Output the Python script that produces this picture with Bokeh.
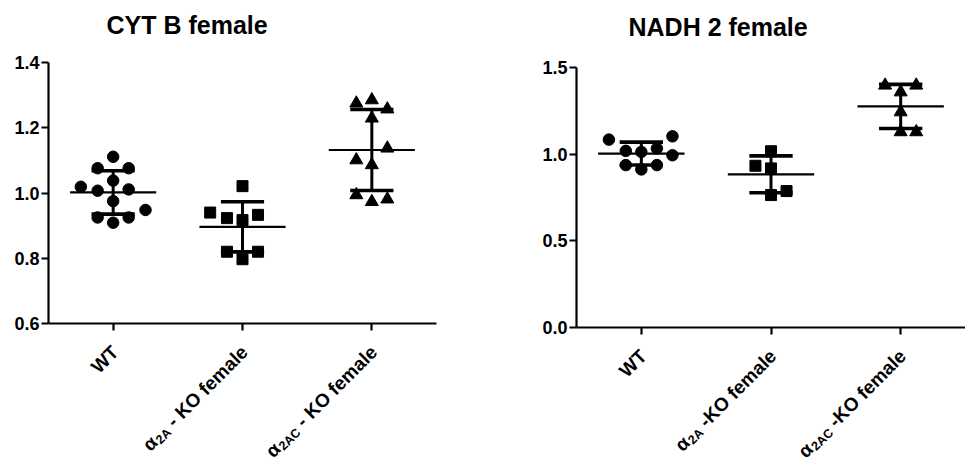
import math
import numpy as np
from bokeh.plotting import figure
from bokeh.models import FixedTicker, PrintfTickFormatter, Label
from bokeh.layouts import row
from bokeh.embed import file_html
from bokeh.resources import INLINE

# ---------------- data ----------------
positions = [1, 2, 3]
markers = ["circle", "square", "triangle"]

cytb_title = "CYT B female"
cytb_main = ["WT", "- KO female", "- KO female"]
cytb_sub = ["", "2A", "2AC"]
cytb_ticks = [0.6, 0.8, 1.0, 1.2, 1.4]

cytb_wt = [1.111, 1.076, 1.076, 1.038, 1.019, 1.007, 1.011, 0.975, 0.948, 0.925, 0.909, 0.925]
cytb_wt_jit = [0, -0.12, 0.12, 0, -0.25, -0.12, 0.12, 0, 0.25, -0.12, 0, 0.12]
cytb_a2a = [1.021, 0.940, 0.923, 0.917, 0.933, 0.820, 0.797, 0.820]
cytb_a2a_jit = [0, -0.25, -0.12, 0, 0.12, -0.12, 0, 0.12]
cytb_a2ac = [1.275, 1.285, 1.257, 1.229, 1.137, 1.101, 1.086, 0.994, 0.973, 0.981]
cytb_a2ac_jit = [-0.12, 0, 0.12, 0, 0.12, -0.12, 0, -0.12, 0, 0.12]

nadh_title = "NADH 2 female"
nadh_main = ["WT", "-KO female", "-KO female"]
nadh_sub = ["", "2A", "2AC"]
nadh_ticks = [0.0, 0.5, 1.0, 1.5]

nadh_wt = [1.084, 1.103, 1.019, 1.013, 1.033, 0.994, 0.937, 0.912, 0.937]
nadh_wt_jit = [-0.25, 0.24, -0.12, 0, 0.12, 0.24, -0.12, 0, 0.12]
nadh_a2a = [1.017, 0.933, 0.918, 0.764, 0.787]
nadh_a2a_jit = [0, -0.12, 0, 0, 0.12]
nadh_a2ac = [1.397, 1.397, 1.358, 1.243, 1.128, 1.128]
nadh_a2ac_jit = [-0.12, 0.12, 0, 0, 0, 0.12]

# ---------------- styling helpers ----------------
FONT = "Liberation Sans"
TICK_PX = 18
XLAB_PX = 19
SUB_PX = 12.5
TITLE_PX = 25
X0, X1 = 0.5, 3.5
# Arial/Liberation Sans Bold advance widths (per 1000 em)
W = {" ": 278, "-": 333, "K": 722, "O": 778, "f": 333, "e": 556, "m": 889,
     "a": 556, "l": 278, "2": 556, "A": 722, "C": 722, "W": 944, "T": 611}


def text_w(s, px):
    return sum(W.get(ch, 600) for ch in s) / 1000.0 * px


def lab(p, x, y, text, size, xo, yo, angle=0.0, align="right", baseline="middle"):
    p.add_layout(Label(x=x, y=y, text=text, x_offset=xo, y_offset=yo,
                       angle=angle, text_align=align, text_baseline=baseline,
                       text_font=FONT, text_font_style="bold",
                       text_font_size=f"{size}px", text_color="black"))


def make_plot(title, groups, jits, main, sub, ticks, y0, y1, width, height,
              ax_left, ax_right, ax_top, ax_bottom, title_dx, title_dy):
    # pixel box of the axes inside the canvas -> data ranges covering the canvas
    kx = (ax_right - ax_left) / (X1 - X0)
    ky = (ax_bottom - ax_top) / (y1 - y0)
    xr = (X0 - ax_left / kx, X0 + (width - ax_left) / kx)
    yr = (y0 - (height - ax_bottom) / ky, y1 + ax_top / ky)
    p = figure(width=width, height=height, x_range=xr, y_range=yr,
               output_backend="svg", toolbar_location=None,
               min_border_left=0, min_border_right=0,
               min_border_top=0, min_border_bottom=0)
    p.outline_line_color = None
    p.background_fill_color = "white"
    p.border_fill_color = "white"
    p.xgrid.visible = False
    p.ygrid.visible = False

    for ax in (p.xaxis[0], p.yaxis[0]):
        ax.axis_line_width = 2.2
        ax.axis_line_color = "black"
        ax.major_tick_line_width = 2.2
        ax.major_tick_line_color = "black"
        ax.major_tick_in = 0
        ax.major_tick_out = 7
        ax.minor_tick_line_color = None
        ax.major_label_text_font = FONT
        ax.major_label_text_font_size = f"{TICK_PX}px"
        ax.major_label_text_font_style = "bold"
        ax.major_label_text_color = "black"
        ax.major_label_standoff = 2

    p.yaxis.fixed_location = X0
    p.yaxis.bounds = (y0, y1)
    p.xaxis.fixed_location = y0
    p.xaxis.bounds = (X0, X1)
    p.yaxis.ticker = FixedTicker(ticks=ticks)
    p.yaxis.formatter = PrintfTickFormatter(format="%.1f")
    p.xaxis.ticker = FixedTicker(ticks=positions)
    p.xaxis.major_label_overrides = {pos: "" for pos in positions}

    # title
    lab(p, X0, y1, title, TITLE_PX, title_dx, title_dy, align="left", baseline="alphabetic")

    # points and mean +/- SD
    for pos, vals, jit, mk in zip(positions, groups, jits, markers):
        vals = np.asarray(vals, dtype=float)
        xs = pos + np.asarray(jit, dtype=float)
        size = {"circle": 11.5, "square": 11, "triangle": 13}[mk]
        p.scatter(xs, vals, marker=mk, size=size, fill_color="black", line_color="black")
        m = vals.mean()
        sd = vals.std(ddof=1)
        p.segment(x0=[pos - 0.333], y0=[m], x1=[pos + 0.333], y1=[m],
                  line_color="black", line_width=2.2)
        p.segment(x0=[pos - 0.167, pos - 0.167], y0=[m + sd, m - sd],
                  x1=[pos + 0.167, pos + 0.167], y1=[m + sd, m - sd],
                  line_color="black", line_width=3.6)
        p.segment(x0=[pos], y0=[m - sd], x1=[pos], y1=[m + sd],
                  line_color="black", line_width=3)

    # rotated category labels (alpha + subscript + rest)
    c = math.cos(math.pi / 4)
    ang = math.pi / 4
    ax0, ay0 = 2.0, -25.5
    for pos, mtxt, stxt in zip(positions, main, sub):
        lab(p, pos, y0, mtxt, XLAB_PX, ax0, ay0, angle=ang)
        if stxt:
            w3 = text_w(" " + mtxt, XLAB_PX)
            w2 = text_w(stxt, SUB_PX) + 1.0
            lab(p, pos, y0, stxt, SUB_PX,
                ax0 - w3 * c + 4.5 * c, ay0 - w3 * c - 4.5 * c, angle=ang)
            lab(p, pos, y0, "α", XLAB_PX,
                ax0 - (w3 + w2) * c, ay0 - (w3 + w2) * c, angle=ang)
    return p


p1 = make_plot(cytb_title, [cytb_wt, cytb_a2a, cytb_a2ac],
               [cytb_wt_jit, cytb_a2a_jit, cytb_a2ac_jit],
               cytb_main, cytb_sub, cytb_ticks, 0.6, 1.4,
               500, 461, 48, 436, 62, 323, 58, 38)
p2 = make_plot(nadh_title, [nadh_wt, nadh_a2a, nadh_a2ac],
               [nadh_wt_jit, nadh_a2a_jit, nadh_a2ac_jit],
               nadh_main, nadh_sub, nadh_ticks, 0.0, 1.5,
               465, 461, 76, 465, 67, 327, 52, 41)

layout = row(p1, p2)
open("out.html", "w").write(file_html(layout, INLINE))
